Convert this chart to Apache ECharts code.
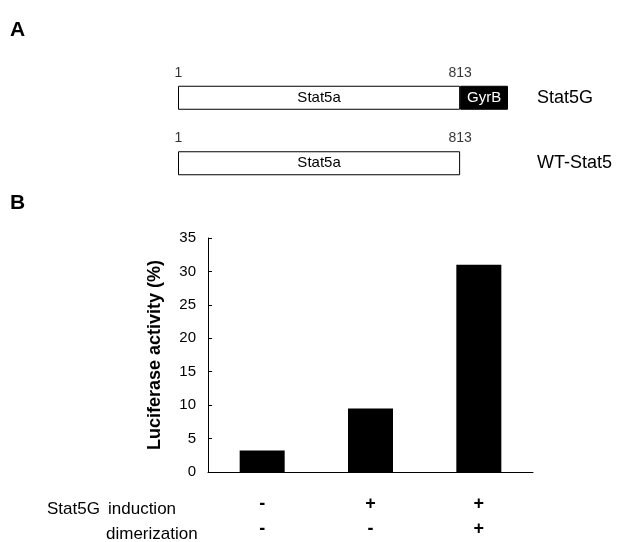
<!DOCTYPE html>
<html>
<head>
<meta charset="utf-8">
<script src="https://cdn.jsdelivr.net/npm/echarts@6/dist/echarts.min.js"></script>
<style>
  html, body { margin: 0; padding: 0; background: #fff; }
  #main { width: 619px; height: 542px; }
</style>
</head>
<body>
<div id="main"></div>
<script>
// panel A: constructs
var constructs = ['Stat5G', 'WT-Stat5'];
var stat5aLen = [813, 813];
var gyrbLen = [138, '-'];
var residueMarks = [1, 813];

// panel B: luciferase activity
var conditions = ['a', 'b', 'c'];
var induction = ['-', '+', '+'];
var dimerization = ['-', '-', '+'];
var activity = [3.2, 9.5, 31];
var yTicks = [0, 5, 10, 15, 20, 25, 30, 35];

var font = 'Liberation Sans, Arial, sans-serif';

var markData = [];
constructs.forEach(function (c) {
    residueMarks.forEach(function (r) { markData.push([r, c]); });
});

var chart = echarts.init(document.getElementById('main'));
var option = {
    animation: false,
    textStyle: { fontFamily: font, color: '#000' },
    grid: [
        { left: 178, right: 94, top: 65, height: 131 },   // panel A
        { left: 208, right: 86, top: 238, bottom: 64 }    // panel B
    ],
    xAxis: [
        { gridIndex: 0, type: 'value', min: 0, max: 1000, show: false },
        {
            gridIndex: 1,
            type: 'category',
            data: conditions,
            axisLine: { lineStyle: { color: '#000', width: 1 } },
            axisTick: { inside: true, length: 4, lineStyle: { color: '#000' } },
            axisLabel: {
                margin: 20,
                fontSize: 18,
                fontWeight: 'bold',
                color: '#000',
                lineHeight: 25,
                formatter: function (v, i) {
                    return induction[i] + '\n' + dimerization[i];
                }
            }
        }
    ],
    yAxis: [
        {
            gridIndex: 0,
            type: 'category',
            data: constructs,
            inverse: true,
            position: 'right',
            axisLine: { show: false },
            axisTick: { show: false },
            axisLabel: { margin: 12, fontSize: 18, color: '#000' }
        },
        {
            gridIndex: 1,
            type: 'value',
            min: yTicks[0],
            max: yTicks[yTicks.length - 1],
            interval: 5,
            name: 'Luciferase activity (%)',
            nameLocation: 'middle',
            nameGap: 44,
            nameTextStyle: { fontSize: 18, fontWeight: 'bold', color: '#000' },
            axisLine: { show: true, lineStyle: { color: '#000', width: 1 } },
            axisTick: { show: true, inside: true, length: 4, lineStyle: { color: '#000' } },
            axisLabel: { margin: 12, fontSize: 15, color: '#000' },
            splitLine: { show: false }
        }
    ],
    series: [
        {
            name: 'Stat5a',
            type: 'bar',
            xAxisIndex: 0,
            yAxisIndex: 0,
            stack: 'construct',
            barWidth: 24,
            data: stat5aLen,
            itemStyle: { color: '#fff', borderColor: '#000', borderWidth: 1 },
            label: { show: true, position: 'inside', formatter: 'Stat5a', fontSize: 15, color: '#000' }
        },
        {
            name: 'GyrB',
            type: 'bar',
            xAxisIndex: 0,
            yAxisIndex: 0,
            stack: 'construct',
            barWidth: 24,
            data: gyrbLen,
            itemStyle: { color: '#000', borderColor: '#000', borderWidth: 1 },
            label: { show: true, position: 'inside', formatter: 'GyrB', fontSize: 15, color: '#fff' }
        },
        {
            name: 'residues',
            type: 'scatter',
            xAxisIndex: 0,
            yAxisIndex: 0,
            symbolSize: 0,
            data: markData,
            label: {
                show: true,
                position: 'top',
                distance: 18,
                fontSize: 14,
                color: '#000',
                formatter: function (p) { return p.value[0]; }
            }
        },
        {
            name: 'activity',
            type: 'bar',
            xAxisIndex: 1,
            yAxisIndex: 1,
            barWidth: 45,
            data: activity,
            itemStyle: { color: '#000' }
        }
    ],
    graphic: [
        { type: 'text', left: 10, top: 20, style: { text: 'A', font: 'bold 21px ' + font, fill: '#000' } },
        { type: 'text', left: 10, top: 193, style: { text: 'B', font: 'bold 21px ' + font, fill: '#000' } },
        { type: 'text', left: 47, top: 501, style: { text: 'Stat5G', font: '17px ' + font, fill: '#000' } },
        { type: 'text', left: 108, top: 501, style: { text: 'induction', font: '17px ' + font, fill: '#000' } },
        { type: 'text', left: 106, top: 526, style: { text: 'dimerization', font: '17px ' + font, fill: '#000' } }
    ]
};
chart.setOption(option);
</script>
</body>
</html>
